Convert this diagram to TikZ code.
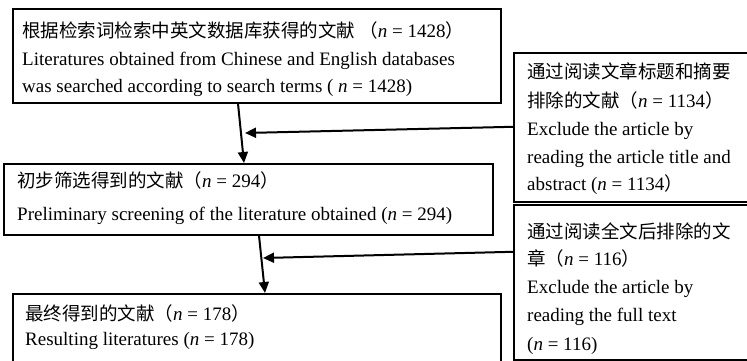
\documentclass[tikz,border=0pt]{standalone}
\usepackage{fontspec}
\setmainfont{Liberation Serif}
\newfontfamily\cjkfont{Noto Sans CJK SC}
\newcommand{\cjk}{\cjkfont\fontsize{18.5}{20}\selectfont}
\usetikzlibrary{arrows.meta}
\newcommand{\nn}{\textit{n}}
\begin{document}
\begin{tikzpicture}[x=1pt,y=-1pt,
  box/.style={draw, line width=1.6pt, inner sep=0pt, anchor=north west},
  txt/.style={anchor=mid west, inner sep=0pt, yshift=-3.5pt, font=\fontsize{19}{21}\selectfont},
  arr/.style={line width=2pt, -{Triangle[length=11pt,width=10pt]}}]
\useasboundingbox (0,0) rectangle (747,361);
\clip (0,0) rectangle (747,361);
% boxes
\node[box, minimum width=488pt, minimum height=94pt] (b1) at (12,8) {};
\node[box, minimum width=489pt, minimum height=71pt] (b2) at (3,163) {};
\node[box, minimum width=488pt, minimum height=90pt] (b3) at (12,293) {};
\node[box, minimum width=250pt, minimum height=149pt] (r1) at (513,52) {};
\node[box, minimum width=250pt, minimum height=155pt] (r2) at (513,204) {};
% texts
\node[txt] (t11) at (22,32) {{\cjk 根据检索词检索中英文数据库获得的文献 （}\nn{} = 1428{\cjk ）}};
\node[txt] (t12) at (22,60) {Literatures obtained from Chinese and English databases};
\node[txt] (t13) at (22,87) {was searched according to search terms ( \nn{} = 1428)};
\node[txt] (t21) at (17,182) {{\cjk 初步筛选得到的文献（}\nn{} = 294{\cjk ）}};
\node[txt] (t22) at (17,215) {Preliminary screening of the literature obtained (\nn{} = 294)};
\node[txt] (t31) at (25,315) {{\cjk 最终得到的文献（}\nn{} = 178{\cjk ）}};
\node[txt] (t32) at (25,340) {Resulting literatures (\nn{} = 178)};
\node[txt] (s11) at (527,73) {\cjk 通过阅读文章标题和摘要};
\node[txt] (s12) at (527,102) {{\cjk 排除的文献（}\nn{} = 1134{\cjk ）}};
\node[txt] (s13) at (527,130) {Exclude the article by};
\node[txt] (s14) at (527,158) {reading the article title and};
\node[txt] (s15) at (527,185) {abstract (\nn{} = 1134{\cjk ）}};
\node[txt] (s21) at (527,233) {\cjk 通过阅读全文后排除的文};
\node[txt] (s22) at (527,260) {{\cjk 章（}\nn{} = 116{\cjk ）}};
\node[txt] (s23) at (527,288) {Exclude the article by};
\node[txt] (s24) at (527,316) {reading the full text};
\node[txt] (s25) at (527,345) {(\nn{} = 116)};
% connectors
\coordinate (c1) at (245,133);
\coordinate (c2) at (263,258);
\draw[arr] ([xshift=226pt]b1.south west) -- ([xshift=241pt]b2.north west);
\draw[arr] ([yshift=0.5pt]r1.west) -- (c1);
\draw[arr] ([xshift=256pt]b2.south west) -- ([xshift=253pt]b3.north west);
\draw[arr] ([yshift=30.5pt]r2.west) -- (c2);
\end{tikzpicture}
\end{document}
